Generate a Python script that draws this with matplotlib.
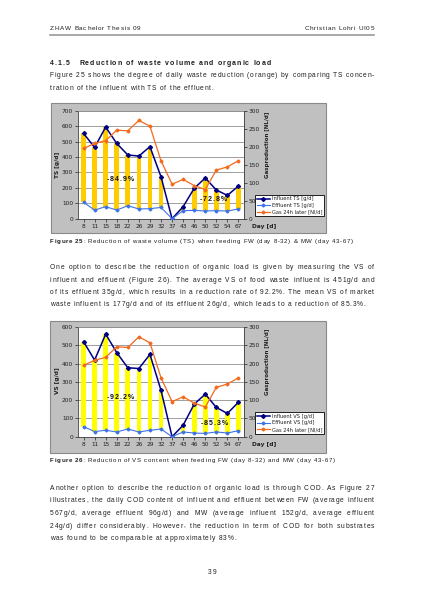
import matplotlib
matplotlib.use("Agg")
import matplotlib.pyplot as plt
from matplotlib.font_manager import FontProperties, findfont, get_font
from matplotlib.lines import Line2D
from matplotlib.patches import Rectangle

W, H = 424, 600          # page size in pixels
TEXT = "#1e1e1e"
NAVY = "#000080"
BLUE = "#3f74e6"
ORANGE = "#f26a1b"
GRAY_BG = "#c0c0c0"

# ---- chart data ----
days = ["8", "11", "15", "18", "22", "26", "29", "32", "37", "43", "46", "50", "52", "54", "67"]
ts_influent = [553, 462, 594, 488, 413, 406, 467, 272, 0, 78, 197, 264, 186, 151, 212]
ts_effluent = [106, 56, 78, 56, 84, 63, 65, 73, 0, 52, 54, 50, 52, 50, 63]
vs_influent = [520, 419, 561, 460, 377, 373, 450, 254, 0, 63, 178, 233, 160, 127, 189]
vs_effluent = [55, 28, 35, 26, 42, 26, 35, 42, 0, 26, 20, 18, 26, 20, 33]
gas_24h = [195, 209, 217, 246, 244, 273, 257, 161, 96, 109, 92, 81, 135, 144, 161]

ts_legend = ["Influent TS [g/d]", "Effluent TS [g/d]", "Gas 24h later [Nl/d]"]
vs_legend = ["Influent VS [g/d]", "Effluent VS [g/d]", "Gas 24h later [Nl/d]"]
ts_reduction = [("-84.9%", 3.3, 255), ("-72.8%", 11.7, 130)]
vs_reduction = [("-92.2%", 3.3, 215), ("-85.3%", 11.8, 75)]

# ---- page text ----
para1 = [
    "Figure 25 shows the degree of daily waste reduction (orange) by comparing TS concen-",
    "tration of the influent with TS of the effluent.",
]
para2 = [
    "One option to describe the reduction of organic load is given by measuring the VS of",
    "influent and effluent (Figure 26). The average VS of food waste influent is 451g/d and",
    "of its effluent 35g/d, which results in a reduction rate of 92.2%. The mean VS of market",
    "waste influent is 177g/d and of its effluent 26g/d, which leads to a reduction of 85.3%.",
]
para3 = [
    "Another option to describe the reduction of organic load is through COD. As Figure 27",
    "illustrates, the daily COD content of influent and effluent between FW (average influent",
    "567g/d, average effluent 96g/d) and MW (average influent 152g/d, average effluent",
    "24g/d) differ considerably. However, the reduction in term of COD for both substrates",
    "was found to be comparable at approximately 83%.",
]

LEFT, RIGHT = 50, 374
BODY = 4.75
TRACK = 0.75

fig = plt.figure(figsize=(W / 100, H / 100), dpi=100)
fig.patch.set_facecolor("white")


def _advance(prop):
    font = get_font(findfont(prop))
    size = prop.get_size_in_points()
    cache = {}

    def adv(ch):
        if ch not in cache:
            font.set_size(size, 100)
            cache[ch] = font.load_char(ord(ch)).linearHoriAdvance / 65536
        return cache[ch]
    return adv


def spaced_text(x, y, s, size=BODY, weight="normal", track=TRACK,
                width=None, ha="left", color=TEXT):
    """Letter-spaced text placed char by char; y is the baseline in px from top."""
    prop = FontProperties(family="Liberation Sans", size=size, weight=weight)
    adv = _advance(prop)
    steps = [adv(c) + track for c in s]
    natural = sum(steps) - track
    extra = 0.0
    if width is not None and s.count(" "):
        extra = (width - natural) / s.count(" ")
        natural = width
    if ha == "center":
        x -= natural / 2
    elif ha == "right":
        x -= natural
    pen = x
    for c, st in zip(s, steps):
        if c != " ":
            fig.text(pen / W, 1 - y / H, c, fontproperties=prop, color=color,
                     ha="left", va="baseline")
        pen += st + (extra if c == " " else 0)
    return pen + track


def paragraph(lines, y0, step=12.5):
    for i, line in enumerate(lines):
        last = i == len(lines) - 1
        spaced_text(LEFT, y0 + i * step, line, width=None if last else RIGHT - LEFT)


def px_rect(x0, y0, x1, y1):
    return [x0 / W, 1 - y1 / H, (x1 - x0) / W, (y1 - y0) / H]


def draw_chart(box, plot, infl, effl, ymax, bar_color, ylabel, ylabel_y,
               legend_names, legend_box, reductions):
    fig.add_artist(Rectangle((box[0] / W, 1 - box[3] / H), (box[2] - box[0]) / W,
                             (box[3] - box[1]) / H, transform=fig.transFigure,
                             facecolor=GRAY_BG, edgecolor="#8a8a8a", lw=0.8, zorder=-1))
    ax = fig.add_axes(px_rect(*plot))
    ax.set_facecolor("white")
    x = range(len(days))
    heights = [a - b for a, b in zip(infl, effl)]
    ax.bar(x, heights, bottom=effl, width=0.42, color=bar_color, zorder=2)
    l1, = ax.plot(x, infl, color=NAVY, marker="D", ms=2.0, lw=1.1, zorder=4)
    l2, = ax.plot(x, effl, color=BLUE, marker="D", ms=1.5, lw=0.8, zorder=4)
    ax.set_xlim(-0.5, len(days) - 0.5)
    ax.set_ylim(0, ymax)
    ax.set_yticks(range(0, ymax + 1, 100))
    ax.set_xticks(list(x), days)
    ax.yaxis.grid(True, color="#8f8f8f", lw=0.6)
    ax.set_axisbelow(True)
    for side in ("top", "right"):
        ax.spines[side].set_color("#8f8f8f")
        ax.spines[side].set_linewidth(0.6)
    for side in ("left", "bottom"):
        ax.spines[side].set_color("#404040")
        ax.spines[side].set_linewidth(0.6)
    ax.tick_params(labelsize=4.2, length=2, width=0.5, pad=1.5, colors="#202020")

    ax2 = ax.twinx()
    l3, = ax2.plot(x, gas_24h, color=ORANGE, marker="D", ms=1.5, lw=0.9, zorder=4)
    ax2.set_ylim(0, 300)
    ax2.set_yticks(range(0, 301, 50))
    ax2.tick_params(labelsize=4.2, length=2, width=0.5, pad=1.5, colors="#202020")
    ax2.spines["right"].set_color("#404040")
    ax2.spines["right"].set_linewidth(0.6)
    for side in ("top", "left", "bottom"):
        ax2.spines[side].set_visible(False)

    # axis titles
    fig.text(58 / W, 1 - ylabel_y / H, ylabel, rotation=90, ha="center", va="center",
             fontsize=4.2, fontweight="bold", color="#202020")
    gas_y = (plot[1] + plot[3]) / 2 - 20
    fig.text(267 / W, 1 - gas_y / H, "Gasproduction [NL/d]", rotation=90,
             ha="center", va="center", fontsize=4.0, fontweight="bold", color="#202020")
    fig.text(264 / W, 1 - (plot[3] + 8) / H, "Day [d]", ha="center", va="center",
             fontsize=4.2, fontweight="bold", color="#202020")

    leg = fig.legend([l1, l2, l3], legend_names, loc="center",
                     bbox_to_anchor=((legend_box[0] + legend_box[2]) / 2 / W,
                                     1 - (legend_box[1] + legend_box[3]) / 2 / H),
                     fontsize=3.7, frameon=True, fancybox=False, edgecolor="black",
                     framealpha=1, borderpad=0.35, labelspacing=0.3,
                     handlelength=2.6, handletextpad=0.4, borderaxespad=0)
    leg.get_frame().set_linewidth(0.6)
    for t in leg.get_texts():
        t.set_color("#202020")

    # reduction percentages
    fig.canvas.draw()
    for label, xi, v in reductions:
        dx, dy = ax.transData.transform((xi, v))
        spaced_text(dx, H - dy + 2, label, size=5.0, weight="bold", track=1.0,
                    ha="center", color="#101010")


# header
spaced_text(LEFT, 30, "ZHAW Bachelor Thesis 09", size=4.6, track=0.7)
spaced_text(RIGHT, 30, "Christian Lohri UI05", size=4.6, track=0.7, ha="right")
fig.add_artist(Line2D([LEFT / W, RIGHT / W], [1 - 35 / H] * 2, transform=fig.transFigure,
                      color="#9a9a9a", lw=1.2))

# heading and text
spaced_text(LEFT, 65, "4.1.5", size=5.0, weight="bold", track=1.0)
spaced_text(79, 65, "Reduction of waste volume and organic load", size=5.0,
            weight="bold", track=1.05)
paragraph(para1, 77)

draw_chart((51, 103, 326, 233), (78, 110.7, 244, 218.7), ts_influent, ts_effluent,
           700, "#ffcc00", "TS [g/d]", 165, ts_legend, (256, 192, 323, 219), ts_reduction)
end = spaced_text(LEFT, 243, "Figure 25", size=4.4, weight="bold", track=0.65)
spaced_text(end - 0.65, 243, ": Reduction of waste volume (TS) when feeding FW (day 8-32) & MW (day 43-67)",
            size=4.4, track=0.65)

paragraph(para2, 269)

draw_chart((50, 321, 326, 453), (78, 327, 244, 436.7), vs_influent, vs_effluent,
           600, "#ffff00", "VS [g/d]", 381, vs_legend, (256, 409, 323, 436.7), vs_reduction)
end = spaced_text(LEFT, 462, "Figure 26", size=4.4, weight="bold", track=0.65)
spaced_text(end - 0.65, 462, ": Reduction of VS content when feeding FW (day 8-32) and MW (day 43-67)",
            size=4.4, track=0.65)

paragraph(para3, 490)
spaced_text(W / 2, 574.5, "39", ha="center")

fig.savefig("out.png", dpi=100)
